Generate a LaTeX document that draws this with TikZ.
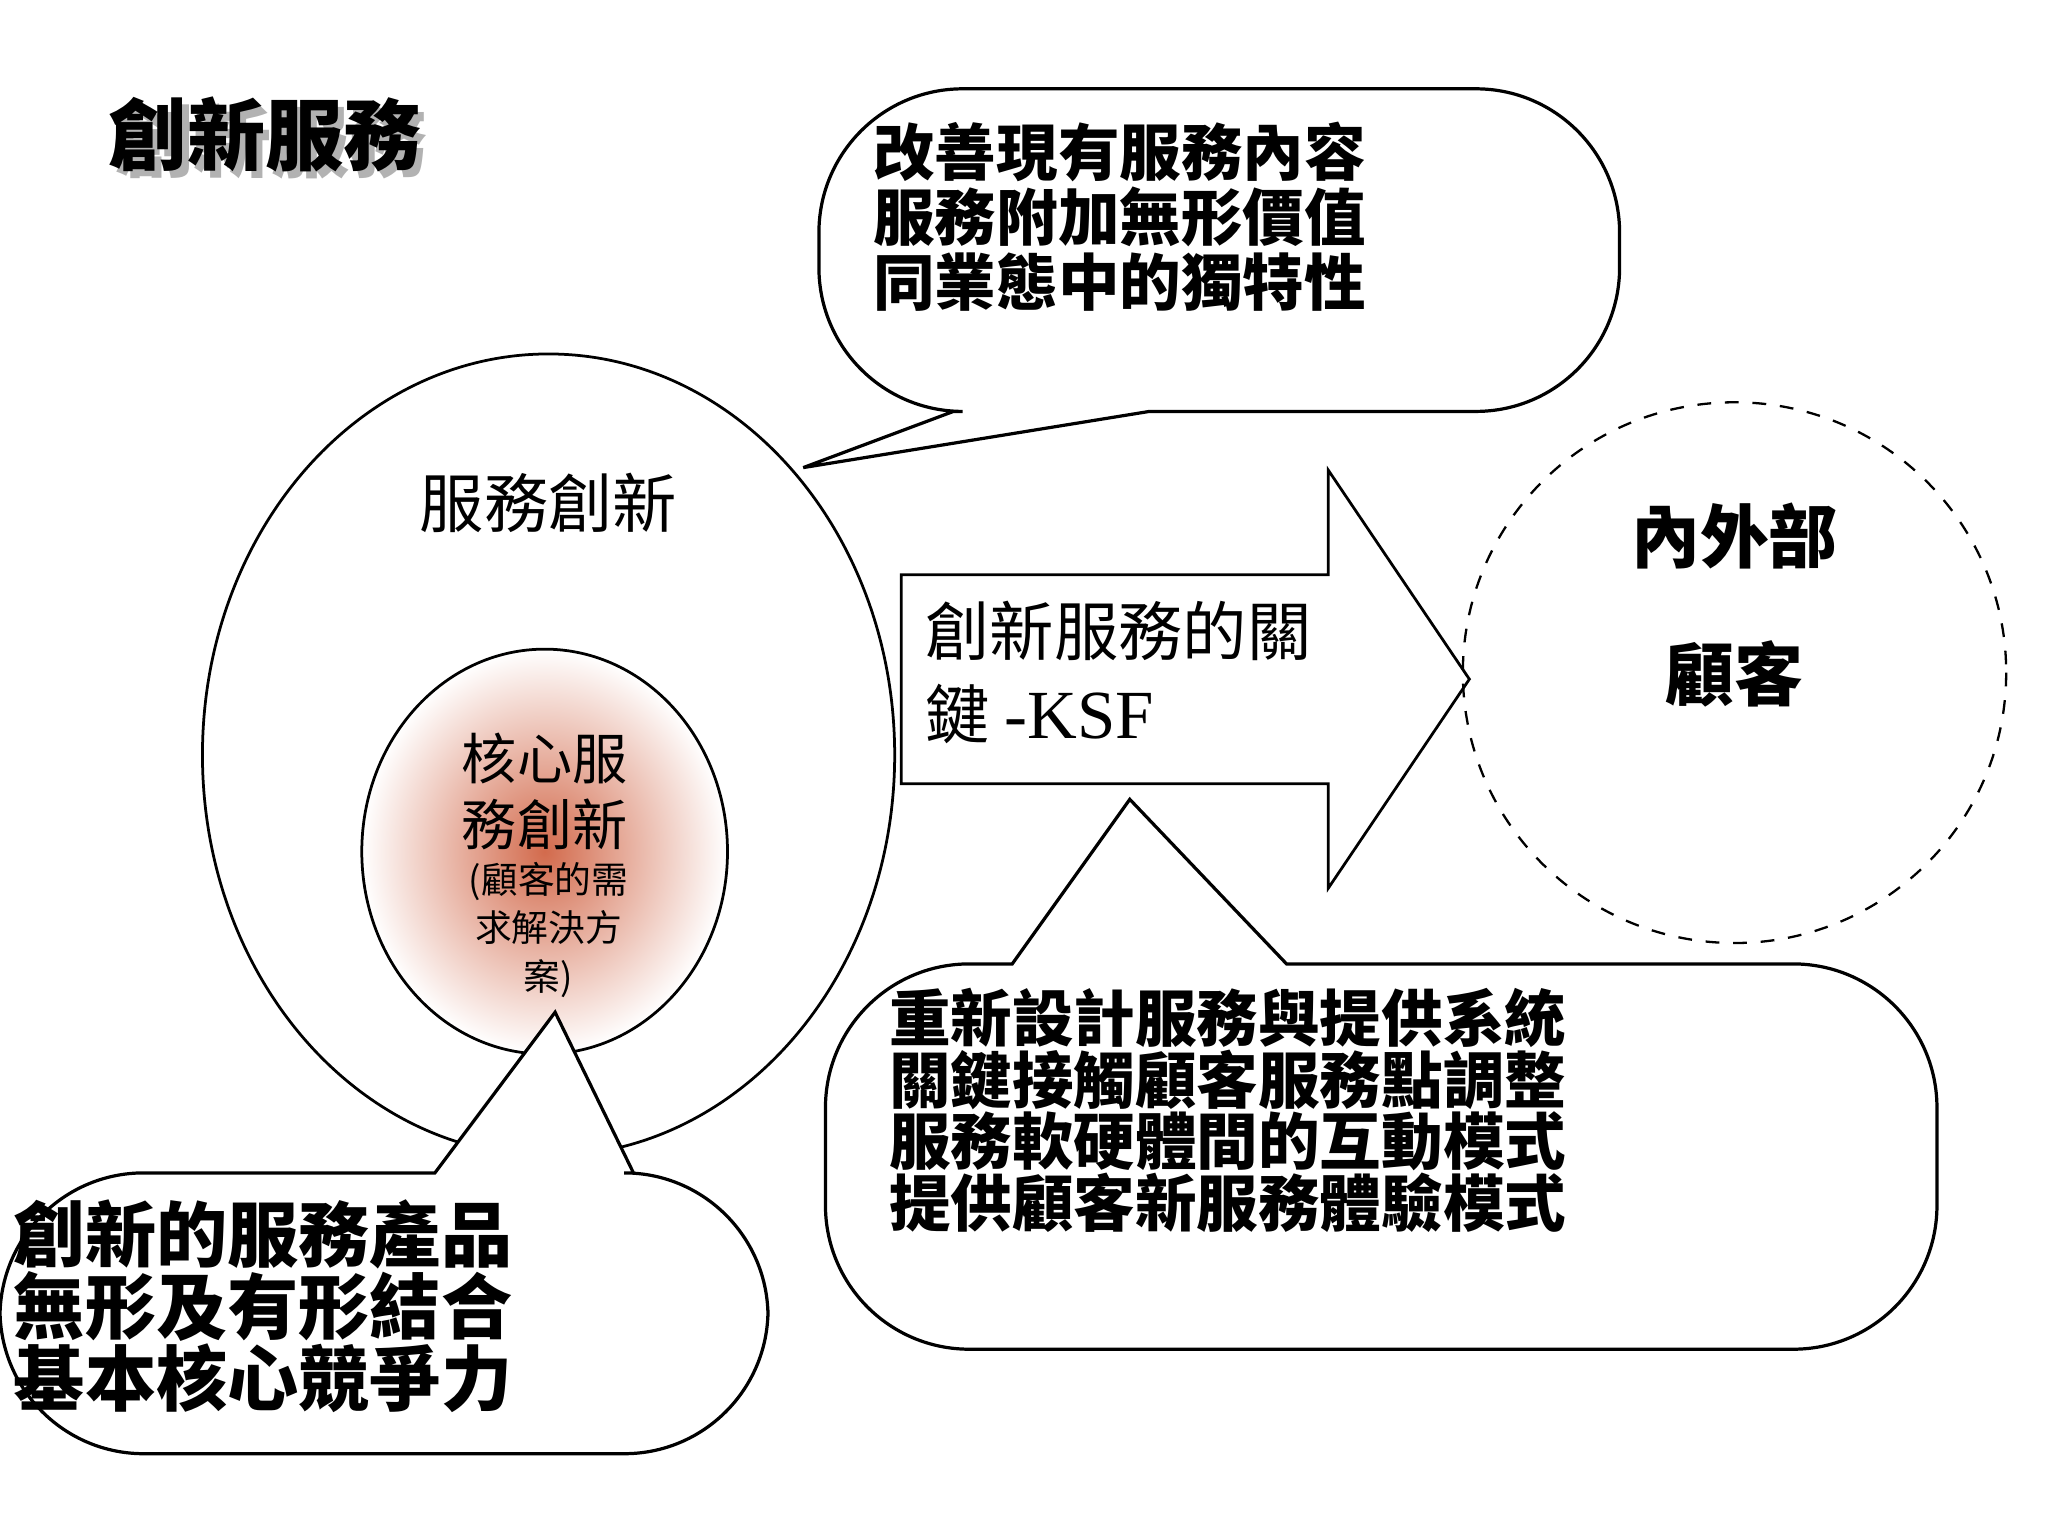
\documentclass[tikz,border=0pt]{standalone}
\usepackage{fontspec}
\newfontfamily\cjk{Noto Sans CJK TC}
\newfontfamily\cjkb{Noto Sans CJK TC Bold}
\setmainfont{Liberation Serif}
\begin{document}
\begin{tikzpicture}[x=0.01cm,y=-0.01cm,
  bt/.style={font=\cjk\bfseries\fontsize{13.4}{14.2}\selectfont,align=left,inner sep=0},
  co/.style={draw,line width=0.7pt,fill=white}]
\useasboundingbox (0,0) rectangle (1568,1176);
% title
\node[font=\cjk\bfseries\fontsize{17}{20}\selectfont,text=gray!60] at (208,108) {創新服務};
\node (title)[font=\cjk\bfseries\fontsize{17}{20}\selectfont] at (203,103) {創新服務};
% big ellipse
\draw[line width=0.6pt] (420,578) ellipse [x radius=265, y radius=307];
\node (svc)[font=\cjk\fontsize{14}{16}\selectfont] at (420,385) {服務創新};
% inner ellipse
\shade[inner color=red!55!orange!75!black!70, outer color=white, draw=black, line width=0.6pt] (417,652) ellipse [x radius=140, y radius=155];
\node (core)[font=\cjk\fontsize{12}{14.5}\selectfont,align=center] at (417,606) {核心服\\務創新};
\node (core2)[font=\cjk\fontsize{8}{10.5}\selectfont,align=center] at (420,712) {(顧客的需\\求解決方\\案)};
% top callout
\draw[co] (880,315) [rounded corners=1.1cm] -- (1240,315) -- (1240,68) -- (627,68) -- (627,315) [sharp corners] -- (730,315) -- (615,358) -- cycle;
\node (t1)[bt,anchor=west] at (668,166) {改善現有服務內容\\服務附加無形價值\\同業態中的獨特性};
% arrow
\draw[line width=0.6pt,fill=white] (690,440) -- (1017,440) -- (1017,360) -- (1125,520) -- (1017,680) -- (1017,600) -- (690,600) -- cycle;
\node (ksf)[anchor=west,inner sep=0,align=left,font=\cjk\fontsize{14}{18}\selectfont] at (708,515) {創新服務的關\\鍵 {\rmfamily\fontsize{15}{18}\selectfont -KSF}};
% dashed circle
\draw[dashed,line width=0.5pt] (1328,515) ellipse [x radius=208, y radius=207];
\node (cust)[font=\cjk\bfseries\fontsize{15}{30}\selectfont,align=center] at (1328,463) {內外部\\顧客};
% bottom-right callout
\draw[co] (985,738) [rounded corners=1.1cm] -- (1483,738) -- (1483,1033) -- (632,1033) -- (632,738) [sharp corners] -- (775,738) -- (865,612) -- cycle;
\node (t2)[bt,anchor=west,font=\cjk\bfseries\fontsize{13.4}{13.4}\selectfont] at (680,850) {重新設計服務與提供系統\\關鍵接觸顧客服務點調整\\服務軟硬體間的互動模式\\提供顧客新服務體驗模式};
% bottom-left callout
\draw[co] (485,898) [rounded corners=1.1cm] -- (588,898) -- (588,1113) -- (0,1113) -- (0,898) [sharp corners] -- (333,898) -- (425,775) -- cycle;
\node (t3)[bt,anchor=west,font=\cjk\bfseries\fontsize{15.5}{15.6}\selectfont] at (10,1000) {創新的服務產品\\無形及有形結合\\基本核心競爭力};
\end{tikzpicture}
\end{document}
